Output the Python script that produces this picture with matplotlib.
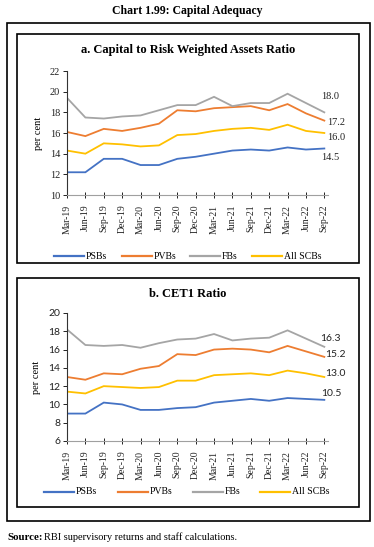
import matplotlib
matplotlib.use("Agg")
import matplotlib.pyplot as plt
from matplotlib.patches import Rectangle
from matplotlib.lines import Line2D

quarters = ["Mar-19", "Jun-19", "Sep-19", "Dec-19", "Mar-20", "Jun-20", "Sep-20", "Dec-20",
            "Mar-21", "Jun-21", "Sep-21", "Dec-21", "Mar-22", "Jun-22", "Sep-22"]
series_names = ["PSBs", "PVBs", "FBs", "All SCBs"]
colors = ["#4472C4", "#ED7D31", "#A5A5A5", "#FFC000"]

crar_psbs = [12.2, 12.2, 13.5, 13.5, 12.9, 12.9, 13.5, 13.7, 14.0, 14.3, 14.4, 14.3, 14.6, 14.4, 14.5]
crar_pvbs = [16.1, 15.7, 16.4, 16.2, 16.5, 16.9, 18.2, 18.1, 18.4, 18.5, 18.6, 18.2, 18.8, 17.9, 17.2]
crar_fbs = [19.4, 17.5, 17.4, 17.6, 17.7, 18.2, 18.7, 18.7, 19.5, 18.6, 18.9, 18.9, 19.8, 18.9, 18.0]
crar_all = [14.3, 14.0, 15.0, 14.9, 14.7, 14.8, 15.8, 15.9, 16.2, 16.4, 16.5, 16.3, 16.8, 16.2, 16.0]
crar_end_labels = ["14.5", "17.2", "18.0", "16.0"]

cet1_psbs = [9.0, 9.0, 10.2, 10.0, 9.4, 9.4, 9.6, 9.7, 10.2, 10.4, 10.6, 10.4, 10.7, 10.6, 10.5]
cet1_pvbs = [13.0, 12.7, 13.4, 13.3, 13.9, 14.2, 15.5, 15.4, 16.0, 16.1, 16.0, 15.7, 16.4, 15.8, 15.2]
cet1_fbs = [18.2, 16.5, 16.4, 16.5, 16.2, 16.7, 17.1, 17.2, 17.7, 17.0, 17.2, 17.3, 18.1, 17.2, 16.3]
cet1_all = [11.4, 11.2, 12.0, 11.9, 11.8, 11.9, 12.6, 12.6, 13.2, 13.3, 13.4, 13.2, 13.7, 13.4, 13.0]
cet1_end_labels = ["10.5", "15.2", "16.3", "13.0"]

W, H = 374, 547
fig = plt.figure(figsize=(W / 100, H / 100), dpi=100)
fig.patch.set_facecolor("white")

SERIF = "Liberation Serif"
SANS = "Lato"


def px_rect(x0, y0, x1, y1):
    return [x0 / W, 1 - y1 / H, (x1 - x0) / W, (y1 - y0) / H]


def fx(x):
    return x / W


def fy(y):
    return 1 - y / H


# boxes
fig.add_artist(Rectangle((fx(7), fy(521)), (370 - 7) / W, (521 - 23) / H, fill=False,
                         edgecolor="black", linewidth=1.2, transform=fig.transFigure))
fig.add_artist(Rectangle((fx(17), fy(263)), (359 - 17) / W, (263 - 34) / H, fill=False,
                         edgecolor="black", linewidth=1.2, transform=fig.transFigure))
fig.add_artist(Rectangle((fx(17), fy(507)), (359 - 17) / W, (507 - 278) / H, fill=False,
                         edgecolor="black", linewidth=1.2, transform=fig.transFigure))

fig.text(0.5, fy(11), "Chart 1.99: Capital Adequacy", ha="center", va="center",
         fontsize=8.5, fontweight="bold", family=SERIF)
fig.text(fx(188), fy(50), "a. Capital to Risk Weighted Assets Ratio", ha="center", va="center",
         fontsize=9, fontweight="bold", family=SERIF)
fig.text(fx(188), fy(294), "b. CET1 Ratio", ha="center", va="center",
         fontsize=9, fontweight="bold", family=SERIF)

fig.text(fx(7), fy(537), "Source:", ha="left", va="center", fontsize=7.8,
         fontweight="bold", family=SERIF)
fig.text(fx(44), fy(537), "RBI supervisory returns and staff calculations.", ha="left",
         va="center", fontsize=7.5, family=SERIF)


def draw_panel(rect, data, end_labels, ylim, yticks, tickfont, offsets):
    ax = fig.add_axes(rect)
    x = list(range(len(quarters)))
    for vals, c in zip(data, colors):
        ax.plot(x, vals, color=c, linewidth=1.3, solid_joinstyle="miter")
    ax.set_xlim(0, len(quarters) - 1 + 0.2)
    ax.set_ylim(*ylim)
    ax.set_yticks(yticks)
    ax.set_xticks(x)
    ax.set_xticklabels(quarters, rotation=90, fontsize=7, family=SERIF)
    for lab in ax.get_yticklabels():
        lab.set_fontsize(7.5)
        lab.set_family(tickfont)
    for s in ["top", "right"]:
        ax.spines[s].set_visible(False)
    ax.spines["left"].set_color("#333333")
    ax.spines["bottom"].set_color("#A0A0A0")
    ax.spines["left"].set_linewidth(0.8)
    ax.spines["bottom"].set_linewidth(0.8)
    ax.tick_params(axis="y", direction="out", length=3, width=0.7, pad=2, colors="#222222")
    ax.tick_params(axis="x", direction="inout", length=4, width=0.7, pad=5, colors="#222222")
    ax.set_ylabel("per cent", fontsize=7.5, family=SERIF, labelpad=5)
    ax.set_facecolor("none")
    for vals, lab, off in zip(data, end_labels, offsets):
        ax.annotate(lab, (x[-1], vals[-1]), xytext=off, textcoords="offset pixels",
                    fontsize=7.5, family=tickfont, ha="left", va="center", color="#222222",
                    annotation_clip=False)
    return ax


ax1 = draw_panel(px_rect(67, 71, 328, 195),
                 [crar_psbs, crar_pvbs, crar_fbs, crar_all], crar_end_labels,
                 (10, 22), [10, 12, 14, 16, 18, 20, 22], SERIF,
                 [(-3, -8.5), (3, -1.5), (-3, 16), (3, -4)])
ax2 = draw_panel(px_rect(67, 313, 328, 441),
                 [cet1_psbs, cet1_pvbs, cet1_fbs, cet1_all], cet1_end_labels,
                 (6, 20), [6, 8, 10, 12, 14, 16, 18, 20], SANS,
                 [(-3, 6), (1, 2), (-4, 8), (1, 3)])


def legend(y, starts):
    for lx, c, name in zip(starts, colors, series_names):
        fig.add_artist(Line2D([fx(lx), fx(lx + 30)], [fy(y), fy(y)], color=c, linewidth=1.6,
                              transform=fig.transFigure))
        fig.text(fx(lx + 32), fy(y), name, ha="left", va="center", fontsize=7, family=SERIF)


legend(256, [54, 122, 190, 252])
legend(492, [44, 118, 193, 260])

fig.savefig("out.png", dpi=100, facecolor="white")
